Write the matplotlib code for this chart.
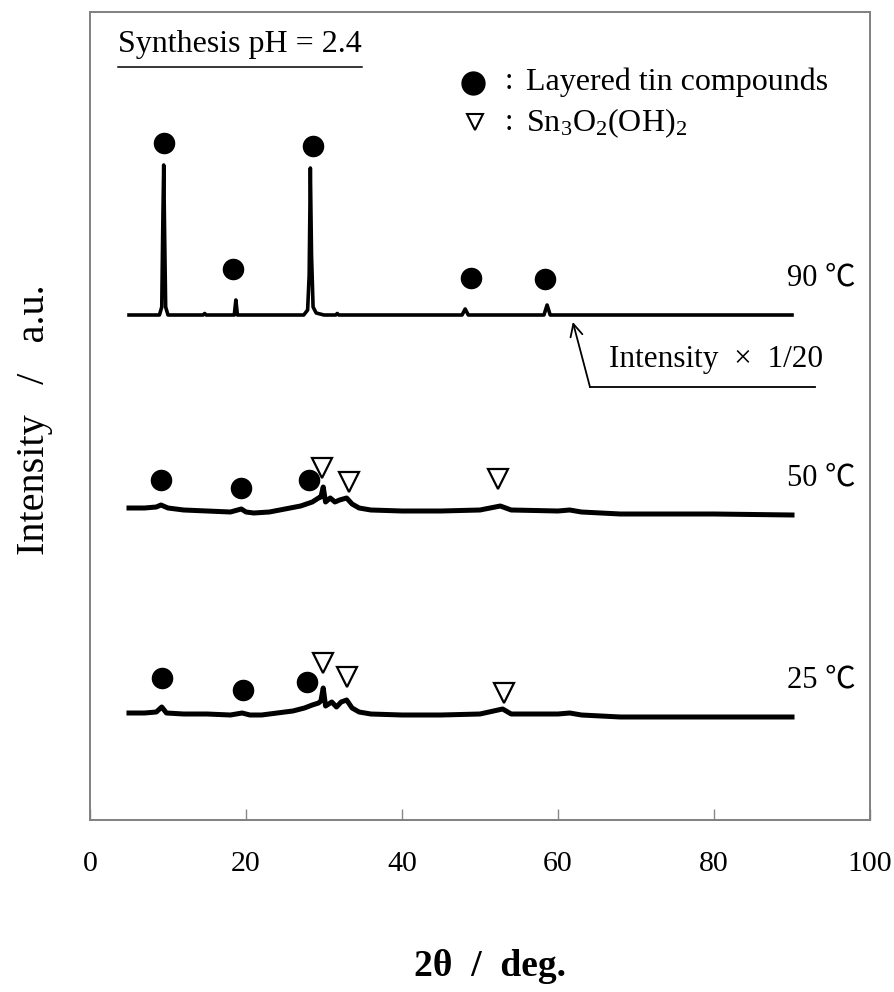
import matplotlib
matplotlib.use('Agg')
import matplotlib.pyplot as plt

plt.rcParams['font.family'] = ['Liberation Serif', 'Noto Sans CJK JP', 'DejaVu Serif']
plt.rcParams['mathtext.fontset'] = 'custom'
plt.rcParams['mathtext.rm'] = 'Liberation Serif'
plt.rcParams['mathtext.it'] = 'Liberation Serif:italic'

# ---------------- data ----------------
# 90 C pattern (intensity x 1/20), values relative to its baseline offset
x90 = [5.0, 8.9, 9.2, 9.35, 9.45, 9.55, 9.7, 10.0, 14.5, 14.7, 14.9,
       18.5, 18.7, 18.9, 27.4, 27.9, 28.1, 28.25, 28.4, 28.6, 29.0, 30.0,
       31.5, 31.7, 31.9, 47.7, 48.1, 48.5, 58.2, 58.6, 59.0, 90.0]
y90 = [0, 0, 8, 100, 150, 90, 8, 0, 0, 1.5, 0,
       0, 15, 0, 0, 5, 40, 147, 60, 8, 2, 0,
       0, 1.5, 0, 0, 6, 0, 0, 10, 0, 0]
off90 = 505

# 50 C pattern
x50 = [5, 7, 8.5, 9.1, 10, 12, 15, 18, 19.4, 20, 21, 23, 25, 27, 28.5, 29.3,
       29.6, 29.9, 30.2, 30.8, 31.4, 32.0, 32.9, 33.6, 34.5, 36, 40, 45, 50,
       52.6, 54, 60, 61.5, 63, 68, 80, 90]
y50 = [7, 7, 8, 10, 7, 5, 4, 3, 6, 3, 2, 3, 6, 9, 13, 17,
       18, 28, 13, 17, 13, 15, 17, 11, 7, 5, 4, 4, 5,
       9, 5, 4, 5, 3, 1, 1, 0]
off50 = 305

# 25 C pattern
x25 = [5, 7, 8.5, 9.2, 9.8, 12, 15, 18, 19.5, 20.5, 22, 24, 26, 27.5, 28.5,
       29.3, 29.6, 29.9, 30.2, 31.0, 31.6, 32.2, 32.9, 33.6, 34.5, 36, 40, 45,
       50, 52.9, 54, 60, 61.5, 63, 68, 80, 90]
y25 = [4, 4, 5, 10, 4, 3, 3, 2, 4, 2, 2, 4, 6, 9, 12,
       14, 16, 29, 11, 15, 10, 15, 17, 9, 5, 3, 2, 2,
       3, 8, 3, 3, 4, 2, 0, 0, 0]
off25 = 103

# peak markers
circ_x = [9.5, 18.3, 28.6, 48.9, 58.3, 9.1, 19.4, 28.1, 9.2, 19.6, 27.8]
circ_y = [677, 551, 674, 542, 541, 340, 332, 340, 142, 130, 138]
tri_x = [29.7, 33.2, 52.3, 29.9, 32.9, 53.1]
tri_y = [352, 338, 341, 157, 143, 127]

temp_labels = ['90 \u2103', '50 \u2103', '25 \u2103']
temp_label_y = [542, 342, 140]

x_ticks = [0, 20, 40, 60, 80, 100]

# ---------------- figure ----------------
fig = plt.figure(figsize=(8.94, 9.92), dpi=100)
ax = fig.add_axes([90 / 894, 172 / 992, 780 / 894, 808 / 992])

ax.plot(x90, [v + off90 for v in y90], color='black', lw=2.6, solid_joinstyle='round')
ax.plot(x50, [v + off50 for v in y50], color='black', lw=3.6, solid_joinstyle='round')
ax.plot(x25, [v + off25 for v in y25], color='black', lw=3.6, solid_joinstyle='round')

ax.plot(circ_x, circ_y, 'o', color='black', ms=14.5, ls='none')
ax.plot(tri_x, tri_y, 'v', mfc='white', mec='black', mew=1.6, ms=14, ls='none')

for lab, yy in zip(temp_labels, temp_label_y):
    ax.text(89.4, yy, lab, fontsize=22, ha='left', va='center')

# legend
ax.plot([49.1], [737], 'o', color='black', ms=16.5)
ax.plot([49.4], [698], 'v', mfc='white', mec='black', mew=1.5, ms=11)
ax.text(53.2, 738, ':', fontsize=22, va='center', ha='left')
ax.text(53.2, 697, ':', fontsize=22, va='center', ha='left')
ax.text(55.9, 738, 'Layered tin compounds', fontsize=23, va='center', ha='left')
ax.text(55.9, 697, r'$\mathregular{Sn_3O_2(OH)_2}$', fontsize=23, va='center', ha='left')

# synthesis label with underline
t = ax.text(3.6, 775, 'Synthesis pH = 2.4', fontsize=23, va='center', ha='left')

# intensity annotation
ax.plot([64.1, 92.9], [433, 433], color='black', lw=1.3)
ax.annotate('', xy=(61.9, 498), xytext=(64.1, 433),
            arrowprops=dict(arrowstyle='->', color='black', lw=1.3,
                            mutation_scale=22, shrinkA=0, shrinkB=0))
ax.text(80.2, 460, 'Intensity  \u00d7  1/20', fontsize=22.5, ha='center', va='center')

ax.set_xlim(0, 100)
ax.set_ylim(0, 808)
ax.set_xticks(x_ticks)
ax.set_xticklabels([str(v) for v in x_ticks])
ax.set_yticks([])
ax.tick_params(axis='x', direction='in', length=8, width=1.0, color='#888888',
               labelsize=21.5, pad=22)
for s in ax.spines.values():
    s.set_color('#808080')
    s.set_linewidth(1.4)

fig.text(35 / 894, 1 - 420 / 992, 'Intensity   /   a.u.', rotation=90,
         fontsize=29, ha='center', va='center')
fig.text(490 / 894, 1 - 967 / 992, '2\u03b8  /  deg.', fontsize=27,
         fontweight='bold', ha='center', va='center')

# underline
fig.canvas.draw()
bb = t.get_window_extent(renderer=fig.canvas.get_renderer())
inv = ax.transData.inverted()
(x0, y0), (x1, y1) = inv.transform([[bb.x0, bb.y0], [bb.x1, bb.y0]])
ax.plot([x0, x1], [753, 753], color='black', lw=1.1)

fig.savefig('out.png', dpi=100)
